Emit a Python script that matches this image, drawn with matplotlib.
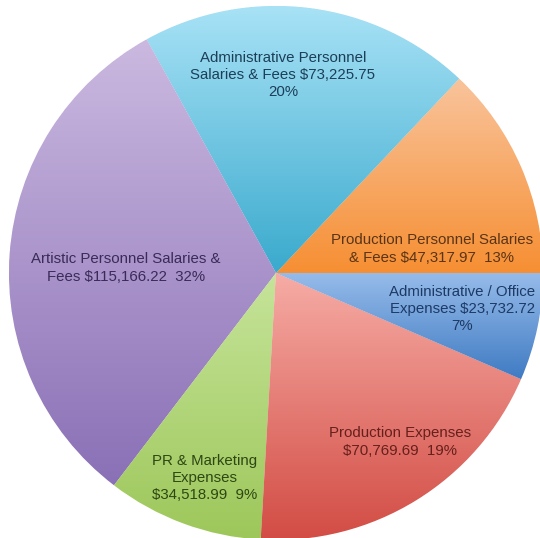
import numpy as np
import matplotlib.pyplot as plt
from matplotlib.colors import LinearSegmentedColormap

# slices, counter-clockwise starting at 3 o'clock
categories = [
    "Production Personnel Salaries\n& Fees $47,317.97  13%",
    "Administrative Personnel\nSalaries & Fees $73,225.75\n20%",
    "Artistic Personnel Salaries &\nFees $115,166.22  32%",
    "PR & Marketing\nExpenses\n$34,518.99  9%",
    "Production Expenses\n$70,769.69  19%",
    "Administrative / Office\nExpenses $23,732.72\n7%",
]
amounts = [47317.97, 73225.75, 115166.22, 34518.99, 70769.69, 23732.72]

top_colors = ["#F9C49C", "#A8E2F6", "#CBB9E0", "#C6E49A", "#F6ACA5", "#97BCEA"]
bottom_colors = ["#F68F33", "#3AAACD", "#8A70B6", "#9DC75A", "#D24C44", "#3F7BC3"]
text_colors = ["#5A3416", "#1C3F58", "#3B2B58", "#2E4714", "#66201B", "#1D3A66"]

# label anchor points (pie radius = 1)
label_pos = [(0.584, 0.090), (0.026, 0.742), (-0.562, 0.019),
             (-0.266, -0.768), (0.464, -0.633), (0.697, -0.135)]

fig = plt.figure(figsize=(5.4, 5.38), dpi=100)
ax = fig.add_axes([0, 0, 1, 1])

wedges, _ = ax.pie(amounts, startangle=0, counterclock=True, radius=1,
                   colors=bottom_colors,
                   wedgeprops=dict(edgecolor="white", linewidth=0.6))

grad = np.linspace(0, 1, 256).reshape(-1, 1)
for w, c_top, c_bot in zip(wedges, top_colors, bottom_colors):
    ext = w.get_path().get_extents()
    cmap = LinearSegmentedColormap.from_list("g", [c_top, c_bot])
    im = ax.imshow(grad, cmap=cmap, aspect="auto", origin="upper",
                   extent=(ext.x0, ext.x1, ext.y0, ext.y1), zorder=1.5)
    im.set_clip_path(w)

for (x, y), txt, tc in zip(label_pos, categories, text_colors):
    ax.text(x, y, txt, ha="center", va="center", fontsize=10.8,
            family="Liberation Sans", color=tc, linespacing=1.3, zorder=3)

ax.set_aspect("auto")
ax.set_xlim(-276 / 267, 264 / 267)
ax.set_ylim(-265 / 267, 273 / 267)
ax.axis("off")

fig.savefig("out.png", dpi=100)
